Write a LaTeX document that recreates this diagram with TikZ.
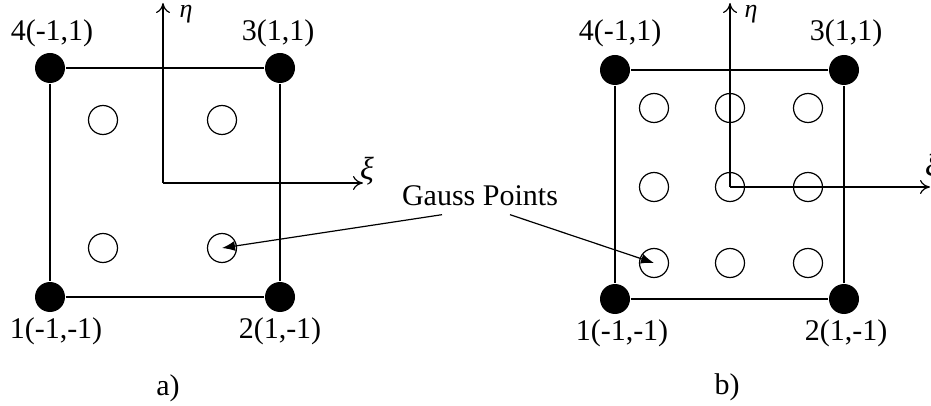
\documentclass[tikz,border=0pt]{standalone}
\usepackage{fontspec}
\setmainfont{Liberation Serif}
\usetikzlibrary{arrows.meta}
\begin{document}
\begin{tikzpicture}[
    x=0.5pt, y=-0.5pt,
    line width=0.6pt,
    every node/.style={font=\fontsize{15}{18}\selectfont, inner sep=0pt},
    greeklbl/.style={font=\fontsize{13}{15}\selectfont\itshape},
    xilbl/.style={font=\fontsize{16}{18}\selectfont\itshape},
    cornerpt/.style={circle, fill=black, minimum size=15pt},
    gausspt/.style={circle, draw, minimum size=14.5pt},
    axisarrow/.style={-{To[length=5pt,width=7pt]}},
    ptarrow/.style={-{Latex[length=6.5pt,width=5pt]}},
]
\useasboundingbox (0,0) rectangle (931,406);

% a) four-node element, 2x2 points
\coordinate (aO)   at (163,183);
\coordinate (aEta) at (163,3);
\coordinate (aXi)  at (363,183);
\draw[axisarrow] (aO) -- (aEta);
\draw[axisarrow] (aO) -- (aXi);
\node[greeklbl] (aEtaLbl) at (186,14) {η};
\node[xilbl] (aXiLbl)  at (367,171) {ξ};

\node[cornerpt] (a1) at (50,297) {};
\node[cornerpt] (a2) at (280,297) {};
\node[cornerpt] (a3) at (280,68) {};
\node[cornerpt] (a4) at (50,68) {};
\draw (a1) -- (a2) -- (a3) -- (a4) -- (a1);

\node (a1Lbl) at (56,331) {1(-1,-1)};
\node (a2Lbl) at (280,331) {2(1,-1)};
\node (a3Lbl) at (278,33) {3(1,1)};
\node (a4Lbl) at (52,33) {4(-1,1)};

\node[gausspt] (ag1) at (103,248) {};
\node[gausspt] (ag2) at (222,248) {};
\node[gausspt] (ag3) at (222,120) {};
\node[gausspt] (ag4) at (103,120) {};

\node (aCap) at (168,388) {a)};

% b) four-node element, 3x3 points
\coordinate (bO)   at (730,187);
\coordinate (bEta) at (730,3);
\coordinate (bXi)  at (930,187);
\draw[axisarrow] (bO) -- (bEta);
\draw[axisarrow] (bO) -- (bXi);
\node[greeklbl] (bEtaLbl) at (751,14) {η};
\node[xilbl] (bXiLbl)  at (932,168) {ξ};

\node[cornerpt] (b1) at (615,299) {};
\node[cornerpt] (b2) at (844,299) {};
\node[cornerpt] (b3) at (844,70) {};
\node[cornerpt] (b4) at (615,70) {};
\draw (b1) -- (b2) -- (b3) -- (b4) -- (b1);

\node (b1Lbl) at (622,333) {1(-1,-1)};
\node (b2Lbl) at (846,333) {2(1,-1)};
\node (b3Lbl) at (846,33) {3(1,1)};
\node (b4Lbl) at (620,33) {4(-1,1)};

\node[gausspt] (bg11) at (654,263) {};
\node[gausspt] (bg12) at (730,263) {};
\node[gausspt] (bg13) at (808,263) {};
\node[gausspt] (bg21) at (654,187) {};
\node[gausspt] (bg22) at (730,187) {};
\node[gausspt] (bg23) at (808,187) {};
\node[gausspt] (bg31) at (654,108) {};
\node[gausspt] (bg32) at (730,108) {};
\node[gausspt] (bg33) at (808,108) {};

\node (bCap) at (727,387) {b)};

% label with pointers
\node[inner sep=4pt] (gauss) at (480,196) {Gauss Points};
\draw[ptarrow] ([xshift=-19pt]gauss.south) -- (ag2.center);
\draw[ptarrow] ([xshift=15pt]gauss.south) -- (bg11.center);

\end{tikzpicture}
\end{document}
